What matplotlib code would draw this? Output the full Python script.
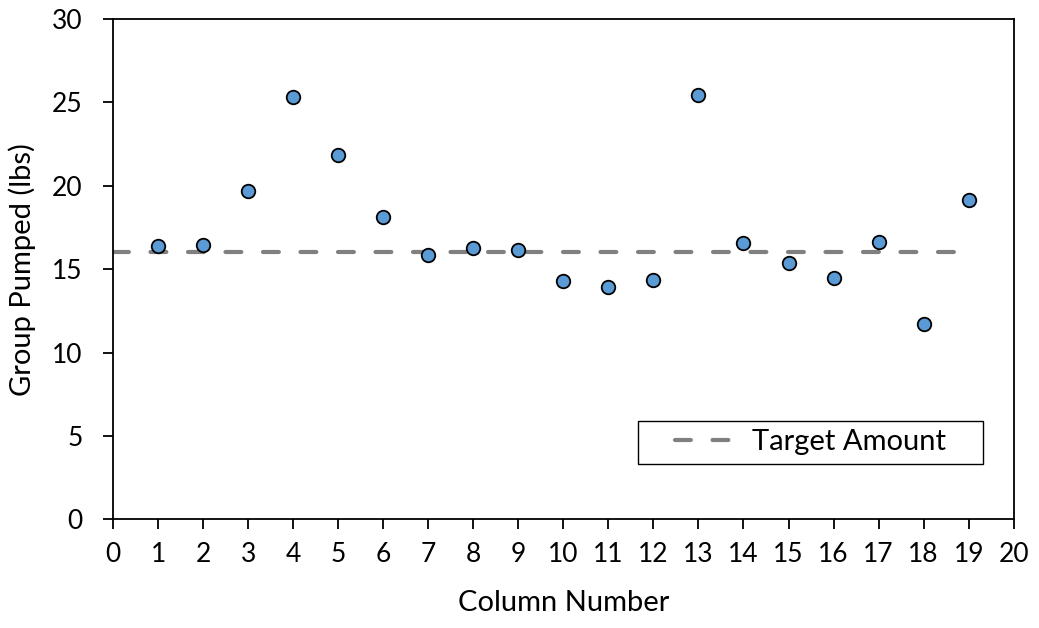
import matplotlib
matplotlib.use("Agg")
import numpy as np
import matplotlib.pyplot as plt
from matplotlib.legend_handler import HandlerLine2D

columns = list(range(1, 20))
pumped = [16.38, 16.43, 19.70, 25.34, 21.86, 18.10, 15.83, 16.25, 16.15, 14.30,
          13.95, 14.35, 25.46, 16.55, 15.38, 14.45, 16.62, 11.69, 19.12]
target_x = [0, 19]
target_y = [16, 16]
x_ticks = list(range(0, 21))
y_ticks = [0, 5, 10, 15, 20, 25, 30]

plt.rcParams['font.family'] = ['Lato', 'DejaVu Sans']
FS = 19
LFS = 21


class ShiftedLine(HandlerLine2D):
    def __init__(self, shift, **kw):
        super().__init__(**kw)
        self.shift = shift

    def get_xdata(self, legend, xdescent, ydescent, width, height, fontsize):
        xd, xm = super().get_xdata(legend, xdescent, ydescent, width, height, fontsize)
        return (np.asarray(xd, float) + self.shift * fontsize,
                np.asarray(xm, float) + self.shift * fontsize)


fig = plt.figure(figsize=(10.39, 6.28), dpi=100)
ax = fig.add_axes([113/1039, 1 - 519.3/628, 900.7/1039, 500.3/628])

line, = ax.plot(target_x, target_y, color='#808080', lw=3, linestyle=(0, (3.8, 5.2)),
                dash_capstyle='round', label='Target Amount', zorder=2)
ax.scatter(columns, pumped, s=95, facecolor='#5B9BD5', edgecolor='black',
           linewidth=1.3, zorder=3)

ax.set_xlim(0, 20)
ax.set_ylim(0, 30)
ax.set_xticks(x_ticks)
ax.set_yticks(y_ticks)
ax.tick_params(direction='out', length=7, width=1.3, labelsize=FS, colors='black')
ax.tick_params(axis='x', pad=9)
ax.tick_params(axis='y', pad=15)
for sp in ax.spines.values():
    sp.set_linewidth(1.3)
    sp.set_color('black')

ax.set_xlabel('Column Number', fontsize=LFS)
ax.set_ylabel('Group Pumped (lbs)', fontsize=LFS)
ax.xaxis.set_label_coords(0.5, -0.141)
ax.yaxis.set_label_coords(-0.0855, 0.5)

leg = ax.legend(handles=[line], loc='lower left',
                bbox_to_anchor=(0.583, 0.1105, 0.383, 0.094), mode='expand',
                borderaxespad=0, fontsize=LFS,
                frameon=True, fancybox=False, edgecolor='black', framealpha=1,
                handlelength=2.0, borderpad=0.3, handletextpad=1.6,
                handler_map={line: ShiftedLine(0.96)})
leg.get_frame().set_linewidth(1.0)

fig.savefig('out.png', dpi=100)
